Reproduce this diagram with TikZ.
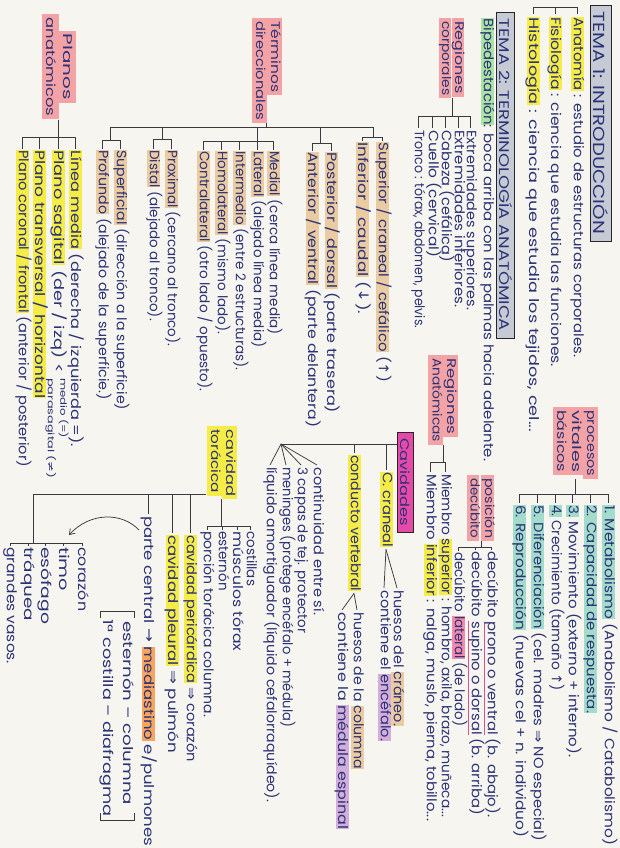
\documentclass[tikz,border=0pt]{standalone}
\usepackage{fontspec}
\setmainfont{Poppins}
\newfontfamily\symf{DejaVu Sans}
\usetikzlibrary{arrows.meta,calc}
\definecolor{bg}{HTML}{F7F5EF}
\definecolor{ink}{HTML}{2B3377}
\definecolor{lncol}{HTML}{3A3A40}
\definecolor{yel}{HTML}{F5EC45}
\definecolor{pinkb}{HTML}{F3A2A6}
\definecolor{pinkhl}{HTML}{F28AAE}
\definecolor{teal}{HTML}{A4DCCB}
\definecolor{tan}{HTML}{EBCBA2}
\definecolor{grn}{HTML}{ABE3A5}
\definecolor{purp}{HTML}{D3AEDB}
\definecolor{orng}{HTML}{F8A55E}
\definecolor{magen}{HTML}{E54AA9}
\definecolor{tgray}{HTML}{C6CAD4}
\definecolor{pinkline}{HTML}{E5508C}
\newdimen\bxw
\newcommand\hl[2]{\leavevmode\setbox0\hbox{#2}\rlap{\textcolor{#1}{\rule[-3.3pt]{\wd0}{13.2pt}}}\box0\relax}
\newcommand\pkul[1]{\leavevmode\setbox0\hbox{#1}\rlap{\textcolor{pinkline}{\rule[-3.8pt]{\wd0}{1.3pt}}}\box0\relax}
\newcommand\bxf[4][14]{\leavevmode\bxw=\dimexpr#3pt-6pt\relax\rlap{\textcolor{#2}{\rule[-0.3\dimexpr#1pt\relax]{#3pt}{#1pt}}}\hbox to #3pt{\hss\resizebox{\bxw}{\height}{#4}\hss}}
\newcommand\fit[2]{\resizebox{#1pt}{\height}{#2}}
\newcommand\sRa{{\symf ⇒}}
\newcommand\sTo{{\symf →}}
\newcommand\sUp{{\symf ↑}}
\newcommand\sDn{{\symf ↓}}
\newcommand\sNe{{\symf ≠}}
\begin{document}
\begin{tikzpicture}[x=1pt,y=-1pt,
  tx/.style={rotate=-90, anchor=west, inner sep=0pt, text=ink, text height=9.5pt, text depth=3.3pt, font=\fontsize{13.5}{15}\selectfont},
  lbl/.style={rotate=-90, anchor=west, inner sep=0pt, text=ink, align=left},
  title/.style={rotate=-90, draw=black!85, fill=tgray, line width=0.9pt, inner sep=0pt, text=ink},
  cavbox/.style={rotate=-90, draw=black!85, fill=magen, line width=0.9pt, inner sep=0pt, text=ink, font=\fontsize{12.5}{13}\selectfont, minimum width=100pt, minimum height=16pt},
  ln/.style={draw=lncol, line width=0.75pt}]
\fill[bg] (0,0) rectangle (620,848);
\useasboundingbox (0,0) rectangle (620,848);

% ---------- TEMA 1 ----------
\node[title, font=\fontsize{16}{16}\selectfont, minimum width=236pt, minimum height=21pt] (t1) at (601,123) {\fit{222}{TEMA 1: INTRODUCCIÓN}};
\node[tx] (anat) at (577,17) {\fit{340}{\hl{yel}{Anatomía} : estudio de estructuras corporales.}};
\node[tx] (fisi) at (555,17) {\fit{350}{\hl{yel}{Fisiología} : ciencia que estudia las funciones.}};
\node[tx] (hist) at (533,17) {\fit{415}{\hl{yel}{Histología} : ciencia que estudia los tejidos, cel...}};
\draw[ln] ([yshift=3pt]anat.west) -- (anat.west |- 0,7) -- (hist.west |- 0,7) -- ([yshift=3pt]hist.west);
\draw[ln] ([yshift=3pt]fisi.west) -- (fisi.west |- 0,7);

% ---------- procesos vitales ----------
\node[lbl, font=\fontsize{12.5}{15}\selectfont] (pvb) at (575,407) {\bxf[15]{pinkb}{72}{procesos}\\\bxf[15]{pinkb}{68}{vitales}\\\bxf[15]{pinkb}{68}{básicos}};
\node[tx] (p1) at (608,505) {\fit{340}{\hl{teal}{1. Metabolismo} (Anabolismo / Catabolismo)}};
\node[tx] (p2) at (590,505) {\fit{208}{\hl{teal}{2. Capacidad de respuesta.}}};
\node[tx] (p3) at (572,505) {\fit{252}{\hl{teal}{3.} Movimiento (externo + interno).}};
\node[tx] (p4) at (555,505) {\fit{186}{\hl{teal}{4.} Crecimiento (tamaño \sUp)}};
\node[tx] (p5) at (537,505) {\fit{336}{\hl{teal}{5. Diferenciación} (cel. madres \sRa{} NO especial)}};
\node[tx] (p6) at (519,505) {\fit{332}{\hl{teal}{6. Reproducción} (nuevas cel + n. individuo)}};
\draw[ln] (pvb.east) -- (pvb.east |- 0,494);
\draw[ln] (p1.west |- 0,494) -- (p6.west |- 0,494);
\foreach \n in {p1,p2,p3,p4,p5,p6} \draw[ln] (\n.west |- 0,494) -- ([yshift=2pt]\n.west);

% ---------- TEMA 2 ----------
\node[title, font=\fontsize{14}{14}\selectfont, minimum width=326pt, minimum height=18pt] (t2) at (505.5,175) {\fit{312}{TEMA 2: TERMINOLOGÍA ANATÓMICA}};
\node[tx] (biped) at (487,18) {\fit{443}{\hl{grn}{Bipedestación}: boca arriba con las palmas hacia adelante.}};

% ---------- posición decúbito ----------
\node[lbl, font=\fontsize{12.5}{12.5}\selectfont] (pos) at (481,475) {\bxf[12.5]{pinkb}{66}{posición}\\\bxf[12.5]{pinkb}{66}{decúbito}};
\node[tx] (dpr) at (491,551) {\fit{266}{decúbito \pkul{prono o ventral} (b. abajo).}};
\node[tx] (dsu) at (475,551) {\fit{264}{decúbito \pkul{supino o dorsal} (b. arriba)}};
\node[tx] (dla) at (458,552) {\fit{174}{decúbito \hl{pinkhl}{lateral} (de lado)}};
\draw[ln] (pos.east) -- (pos.east |- 0,547);
\draw[ln] (dpr.west |- 0,547) -- (dla.west |- 0,547);
\foreach \n in {dpr,dsu,dla} \draw[ln] (\n.west |- 0,547) -- ([yshift=1pt]\n.west);

% ---------- Regiones corporales ----------
\node[lbl, font=\fontsize{12.5}{12}\selectfont] (rc) at (452,18) {\bxf[12]{pinkb}{79}{Regiones}\\\bxf[12]{pinkb}{80}{corporales}};
\node[tx] (rc1) at (470,130) {\fit{180}{Extremidades superiores.}};
\node[tx] (rc2) at (458,130) {\fit{177}{Extremidades inferiores.}};
\node[tx] (rc3) at (445,130) {\fit{132}{Cabeza (cefálica)}};
\node[tx] (rc4) at (432,130) {\fit{127}{Cuello (cervical)}};
\node[tx] (rc5) at (418,130) {\fit{198}{Tronco : tórax, abdomen, pelvis.}};
\draw[ln] (rc.east) -- (rc.east |- 0,116);
\draw[ln] (rc1.west |- 0,116) -- (rc5.west |- 0,116);
\foreach \n in {rc1,rc2,rc3,rc4,rc5} \draw[ln] (\n.west |- 0,116) -- ([yshift=2pt]\n.west);

% ---------- Regiones anatómicas ----------
\node[lbl, font=\fontsize{12.5}{15}\selectfont] (ra) at (443,355) {\bxf[15]{pinkb}{82}{Regiones}\\\bxf[15]{pinkb}{90}{Anatómicas}};
\node[tx] (msup) at (445,474) {\fit{343}{Miembro \hl{yel}{superior} : hombro, axila, brazo, muñeca...}};
\node[tx] (minf) at (430,474) {\fit{347}{Miembro \hl{yel}{inferior} : nalga, muslo, pierna, tobillo...}};
\draw[ln] (ra.east) -- (ra.east |- 0,462);
\draw[ln] (msup.west |- 0,462) -- (minf.west |- 0,462);
\foreach \n in {msup,minf} \draw[ln] (\n.west |- 0,462) -- ([yshift=2pt]\n.west);

% ---------- Cavidades ----------
\node[cavbox] (cav) at (405,482) {\fit{88}{Cavidades}};
\node[tx] (ccr) at (386,472) {\fit{75}{\hl{yel}{C. craneal}}};
\node[tx] (cve) at (354,455) {\fit{136}{\hl{yel}{conducto vertebral}}};
\coordinate (apex) at (281,444);
\draw[ln] (apex) -- (apex -| cav.south);
\draw[ln] (ccr.west |- apex) -- ([yshift=2pt]ccr.west);
\draw[ln] (cve.west |- apex) -- ([yshift=2pt]cve.west);
\node[tx] (f1) at (317,467) {\fit{148}{continuidad entre sí.}};
\node[tx] (f2) at (301,467) {\fit{166}{3 capas de tej. protector}};
\node[tx] (f3) at (286,467) {\fit{260}{meninges (protege encéfalo + médula)}};
\node[tx] (f4) at (270,467) {\fit{335}{líquido amortiguador (líquido cefalorraquídeo).}};
\foreach \n in {f1,f2,f3,f4} \draw[ln] (apex) -- ([yshift=2pt]\n.west);
\node[tx] (cr1) at (397,590) {\fit{136}{huesos del \hl{tan}{cráneo.}}};
\node[tx] (cr2) at (384,590) {\fit{151}{contiene el \hl{purp}{encéfalo.}}};
\draw[ln] ([yshift=-2pt]ccr.east) -- ([yshift=2pt]cr1.west);
\draw[ln] ([yshift=-2pt]ccr.east) -- ([yshift=2pt]cr2.west);
\node[tx] (cv1) at (357,612) {\fit{157}{huesos de la \hl{tan}{columna}}};
\node[tx] (cv2) at (342,612) {\fit{217}{contiene la \hl{purp}{médula espinal}}};
\draw[ln] ([yshift=-2pt]cve.east) -- ([yshift=2pt]cv1.west);
\draw[ln] ([yshift=-2pt]cve.east) -- ([yshift=2pt]cv2.west);

% ---------- cavidad torácica ----------
\node[lbl, font=\fontsize{12.5}{15}\selectfont] (ct) at (221.5,426) {\bxf[15]{yel}{73}{cavidad}\\\bxf[15]{yel}{70}{torácica}};
\node[tx] (ct1) at (250,531) {costillas};
\node[tx] (ct2) at (237,531) {\fit{120}{músculos tórax}};
\node[tx] (ct3) at (222,531) {esternón};
\node[tx] (ct4) at (207,531) {\fit{186}{porción torácica columna.}};
\draw[ln] (ct.east) -- (ct.east |- 0,526);
\draw[ln] (ct1.west |- 0,526) -- (ct4.west |- 0,526);
\foreach \n in {ct1,ct2,ct3,ct4} \draw[ln] (\n.west |- 0,526) -- ([yshift=1pt]\n.west);

\node[tx] (pc) at (190,535) {\fit{227}{\hl{yel}{cavidad pericárdica} \sRa{} corazón}};
\node[tx] (pl) at (172,535) {\fit{218}{\hl{yel}{cavidad pleural} \sRa{} pulmón}};
\node[tx] (pcen) at (148,516) {\fit{330}{parte central \sTo{} \hl{orng}{mediastino} e/pulmones}};
\coordinate (lj) at (33,494);
\draw[ln] (lj) -- (ct.south |- lj);
\foreach \n in {pc,pl,pcen} \draw[ln] (\n.west |- lj) -- ([yshift=2pt]\n.west);
\node[tx] (l1) at (82,547) {\fit{64}{corazón}};
\node[tx] (l2) at (63,547) {\fit{44}{timo}};
\node[tx] (l3) at (45,547) {\fit{77}{esófago}};
\node[tx] (l4) at (28,547) {\fit{74}{tráquea}};
\node[tx] (l5) at (10,547) {\fit{117}{grandes vasos.}};
\draw[ln] (lj) -- (lj |- 0,543);
\draw[ln] (l1.west |- 0,543) -- (l5.west |- 0,543);
\foreach \n in {l1,l2,l3,l4,l5} \draw[ln] (\n.west |- 0,543) -- ([yshift=1pt]\n.west);
\coordinate (arS) at (139,530);
\coordinate (arE) at (69,535);
\draw[ln, -{Straight Barb[length=5pt,width=7pt]}] (arS) .. controls (122,512) and (90,512) .. (arE);
\node[tx] (b1) at (127,621) {\fit{184}{esternón -- columna}};
\node[tx] (b2) at (107,619) {\fit{197}{1ª costilla -- diafragma}};
\draw[ln] (134,618) -- (134,611) -- (100,611) -- (100,618);
\draw[ln] (134,813) -- (134,820) -- (100,820) -- (100,813);

% ---------- Términos direccionales ----------
\node[lbl, font=\fontsize{12.5}{15}\selectfont] (td) at (266.5,18) {\bxf[15]{pinkb}{77}{Términos}\\\bxf[15]{pinkb}{105}{direccionales}};
\coordinate (gsu) at (373,127);
\coordinate (gpo) at (320,127);
\coordinate (gme) at (257,127);
\coordinate (gpr) at (162,127);
\coordinate (gsf) at (110,127);
\draw[ln] (gsf) -- (gsu);
\draw[ln] (td.east) -- (td.east |- gsu);
\node[tx] (ti1) at (382,142) {\fit{240}{\hl{tan}{Superior / craneal / cefálico} (\sUp)}};
\node[tx] (ti2) at (362,142) {\fit{172}{\hl{tan}{Inferior / caudal} (\sDn).}};
\draw[ln] (gsu) -- (gsu |- 0,137);
\draw[ln] (ti1.west |- 0,137) -- (ti2.west |- 0,137);
\foreach \n in {ti1,ti2} \draw[ln] (\n.west |- 0,137) -- ([yshift=1pt]\n.west);
\node[tx] (tp1) at (331,152) {\fit{261}{\hl{tan}{Posterior / dorsal} (parte trasera)}};
\node[tx] (tp2) at (312,152) {\fit{275}{\hl{tan}{Anterior / ventral} (parte delantera)}};
\draw[ln] (gpo) -- (gpo |- 0,143);
\draw[ln] (tp1.west |- 0,143) -- (tp2.west |- 0,143);
\foreach \n in {tp1,tp2} \draw[ln] (\n.west |- 0,143) -- ([yshift=1pt]\n.west);
\node[tx] (tm1) at (273,151) {\hl{tan}{Medial} (cerca línea media)};
\node[tx] (tm2) at (257,151) {\hl{tan}{Lateral} (alejado línea media)};
\node[tx] (tm3) at (239,151) {\hl{tan}{Intermedio} (entre 2 estructuras).};
\node[tx] (tm4) at (221,151) {\hl{tan}{Homolateral} (mismo lado).};
\node[tx] (tm5) at (203,151) {\fit{240}{\hl{tan}{Contralateral} (otro lado / opuesto).}};
\draw[ln] (gme) -- (gme |- 0,141);
\draw[ln] (tm1.west |- 0,141) -- (tm5.west |- 0,141);
\foreach \n in {tm1,tm2,tm3,tm4,tm5} \draw[ln] (\n.west |- 0,141) -- ([yshift=1pt]\n.west);
\node[tx] (tx1) at (171,150) {\hl{tan}{Proximal} (cercano al tronco).};
\node[tx] (tx2) at (153,150) {\hl{tan}{Distal} (alejado al tronco).};
\draw[ln] (gpr) -- (gpr |- 0,139);
\draw[ln] (tx1.west |- 0,139) -- (tx2.west |- 0,139);
\foreach \n in {tx1,tx2} \draw[ln] (\n.west |- 0,139) -- ([yshift=1pt]\n.west);
\node[tx] (ts1) at (120,150) {\fit{260}{\hl{tan}{Superficial} (dirección a la superficie)}};
\node[tx] (ts2) at (102,150) {\fit{250}{\hl{tan}{Profundo} (alejado de la superficie.)}};
\draw[ln] (gsf) -- (gsf |- 0,140);
\draw[ln] (ts1.west |- 0,140) -- (ts2.west |- 0,140);
\foreach \n in {ts1,ts2} \draw[ln] (\n.west |- 0,140) -- ([yshift=1pt]\n.west);

% ---------- Planos anatómicos ----------
\node[rotate=-90, inner sep=0pt, text=ink, align=center, font=\fontsize{12.5}{17}\selectfont] (pa) at (58.5,67) {\bxf[17]{pinkb}{72}{Planos}\\\bxf[17]{pinkb}{105}{anatómicos}};
\node[tx] (pa1) at (75,150) {\fit{297}{\hl{yel}{Línea media} (derecha / izquierda =).}};
\node[tx] (pa2) at (58,150) {\fit{223}{\hl{yel}{Plano sagital} (der / izq) <}};
\node[tx] (pa2a) at (63.5,378) {\resizebox{60pt}{8.2pt}{medio (=)}};
\node[tx] (pa2b) at (51,378) {\resizebox{100pt}{8.2pt}{parasagital (\sNe)}};
\node[tx] (pa3) at (39,150) {\fit{248}{\hl{yel}{Plano transversal / horizontal}}};
\node[tx] (pa4) at (22,150) {\fit{317}{\hl{yel}{Plano coronal / frontal} (anterior / posterior)}};
\draw[ln] (pa.east) -- (pa.east |- 0,137);
\draw[ln] (pa1.west |- 0,137) -- (pa4.west |- 0,137);
\foreach \n in {pa1,pa2,pa3,pa4} \draw[ln] (\n.west |- 0,137) -- ([yshift=1pt]\n.west);
\end{tikzpicture}
\end{document}
